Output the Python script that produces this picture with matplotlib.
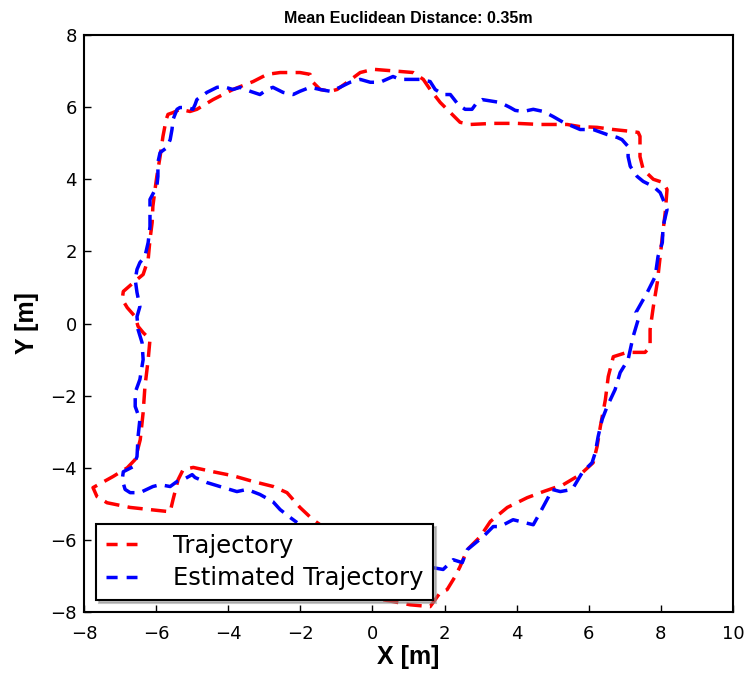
import matplotlib
matplotlib.use("Agg")
import matplotlib.pyplot as plt

traj_x = [0.30, 1.05, 1.60, 1.88, 2.07, 2.29, 2.43, 2.63, 2.99, 3.27, 3.74, 4.29, 4.74, 5.29,
          5.76, 6.12, 6.23, 6.32, 6.46, 6.54, 6.68, 7.06, 7.56, 7.70, 7.70, 7.79, 7.90, 7.98,
          8.04, 8.12, 8.17, 8.06, 7.79, 7.51, 7.42, 7.42, 7.37, 7.15, 6.68, 6.23, 5.76, 5.40,
          4.65, 4.01, 3.35, 2.71, 2.43, 2.16, 1.88, 1.60, 1.41, 1.13, 0.77, 0.02, -0.34, -0.70,
          -0.98, -1.17, -1.45, -1.65, -1.73, -2.01, -2.56, -2.92, -3.31, -3.87, -4.42, -4.87,
          -5.06, -5.34, -5.53, -5.67, -5.72, -5.81, -5.89, -5.98, -6.03, -6.09, -6.11, -6.17,
          -6.22, -6.36, -6.53, -6.91, -6.94, -6.80, -6.58, -6.50, -6.36, -6.17, -6.22, -6.31,
          -6.36, -6.44, -6.58, -6.80, -7.19, -7.75, -7.64, -7.36, -6.72, -6.17, -5.61, -5.53,
          -5.39, -5.25, -4.97, -4.42, -3.87, -3.31, -2.75, -2.37, -2.01, -1.65, -1.45]
traj_y = [-7.66, -7.80, -7.85, -7.46, -7.38, -7.02, -6.74, -6.27, -5.91, -5.49, -5.10, -4.83,
          -4.66, -4.47, -4.19, -3.86, -3.41, -2.86, -2.11, -1.47, -0.92, -0.80, -0.80, -0.64,
          -0.17, 0.47, 1.14, 1.86, 2.41, 3.08, 3.72, 3.91, 4.00, 4.27, 4.63, 5.19, 5.30, 5.33,
          5.38, 5.44, 5.46, 5.52, 5.52, 5.55, 5.55, 5.52, 5.58, 5.85, 6.13, 6.49, 6.77, 6.96,
          6.99, 7.05, 6.96, 6.69, 6.49, 6.44, 6.49, 6.69, 6.91, 6.96, 6.96, 6.91, 6.71, 6.49,
          6.21, 5.94, 5.88, 5.94, 5.85, 5.80, 5.66, 5.19, 4.63, 4.08, 3.72, 3.25, 2.80, 2.33,
          1.78, 1.36, 1.22, 0.89, 0.67, 0.44, 0.19, -0.08, -0.25, -0.44, -1.00, -1.75, -2.47,
          -3.22, -3.77, -4.00, -4.24, -4.55, -4.80, -4.97, -5.10, -5.16, -5.22, -4.88, -4.33,
          -4.05, -3.99, -4.11, -4.22, -4.38, -4.52, -4.69, -5.10, -5.44, -5.58]

# estimated trajectory
est_x = [1.68, 1.96, 2.24, 2.49, 2.63, 3.07, 3.35, 3.54, 3.90, 4.46, 4.65, 4.87, 4.98, 5.21,
         5.54, 5.82, 6.09, 6.18, 6.26, 6.37, 6.51, 6.73, 6.87, 7.09, 7.15, 7.23, 7.37, 7.31,
         7.62, 7.84, 7.92, 8.04, 8.06, 8.17, 8.06, 7.98, 7.79, 7.51, 7.34, 7.15, 7.09, 7.09,
         6.92, 6.79, 6.51, 6.12, 5.76, 5.29, 5.01, 4.74, 4.46, 4.18, 3.96, 3.82, 3.54, 3.35,
         3.04, 2.90, 2.76, 2.57, 2.38, 2.16, 1.96, 1.74, 1.60, 1.32, 1.13, 0.77, 0.57, 0.21,
         -0.06, -0.34, -0.62, -0.90, -1.17, -1.45, -1.73, -2.01, -2.20, -2.48, -2.76, -2.92,
         -3.12, -3.39, -3.67, -3.87, -4.14, -4.31, -4.59, -4.87, -4.92, -4.98, -5.14, -5.34,
         -5.42, -5.53, -5.56, -5.61, -5.70, -5.89, -5.95, -5.95, -5.98, -6.17, -6.17, -6.17,
         -6.22, -6.31, -6.45, -6.53, -6.58, -6.53, -6.45, -6.53, -6.50, -6.39, -6.36, -6.45,
         -6.58, -6.58, -6.45, -6.50, -6.53, -6.64, -6.91, -6.94, -6.86, -6.72, -6.45, -6.09,
         -5.89, -5.61, -5.42, -5.25, -5.00, -4.92, -4.59, -4.23, -3.76, -3.48, -3.12, -2.76,
         -2.56, -2.28, -2.09]
est_y = [-6.77, -6.82, -6.55, -6.63, -6.27, -5.91, -5.63, -5.63, -5.44, -5.58, -5.24, -4.83,
         -4.60, -4.66, -4.60, -4.13, -3.86, -3.58, -3.13, -2.66, -2.30, -1.83, -1.36, -1.00,
         -0.72, -0.36, 0.11, 0.31, 0.86, 1.30, 1.86, 2.25, 2.69, 3.16, 3.44, 3.63, 3.80, 3.94,
         4.08, 4.36, 4.63, 4.91, 5.10, 5.16, 5.24, 5.38, 5.38, 5.58, 5.74, 5.88, 5.94, 5.88,
         5.91, 5.99, 6.13, 6.16, 6.21, 6.13, 5.94, 5.94, 6.07, 6.35, 6.35, 6.49, 6.71, 6.77,
         6.77, 6.77, 6.85, 6.69, 6.69, 6.77, 6.69, 6.55, 6.44, 6.49, 6.55, 6.44, 6.35, 6.41,
         6.55, 6.49, 6.35, 6.44, 6.55, 6.49, 6.57, 6.55, 6.41, 6.21, 6.07, 5.94, 5.99, 5.99,
         5.94, 5.66, 5.38, 5.10, 4.88, 4.74, 4.47, 4.08, 3.80, 3.44, 3.08, 2.69, 2.25, 1.86,
         1.69, 1.50, 1.22, 0.86, 0.47, 0.19, -0.17, -0.53, -1.00, -1.55, -1.91, -2.30, -2.66,
         -3.13, -3.69, -3.97, -4.11, -4.33, -4.60, -4.69, -4.69, -4.52, -4.47, -4.52, -4.38,
         -4.33, -4.19, -4.27, -4.41, -4.52, -4.66, -4.60, -4.74, -4.94, -5.16, -5.38, -5.52]

mean_dist = 0.35
x_ticks = [-8, -6, -4, -2, 0, 2, 4, 6, 8, 10]
y_ticks = [-8, -6, -4, -2, 0, 2, 4, 6, 8]

plt.rcParams['lines.scale_dashes'] = False
label_font = ['Liberation Sans Narrow', 'Liberation Sans', 'DejaVu Sans']

fig = plt.figure(figsize=(7.46, 6.75), dpi=100)
ax = fig.add_axes([0.1126, 0.0933, 0.87, 0.8548])

ax.plot(traj_x, traj_y, color='red', lw=2.5, dashes=(11, 6), label='Trajectory')
ax.plot(est_x, est_y, color='blue', lw=2.5, dashes=(11, 6), label='Estimated Trajectory')

ax.set_xlim(-8, 10)
ax.set_ylim(-8, 8)
ax.set_xticks(x_ticks)
ax.set_yticks(y_ticks)
ax.tick_params(direction='in', length=5, width=1, labelsize=13)
ax.tick_params(axis='x', pad=9)
ax.tick_params(axis='y', pad=5)
for s in ax.spines.values():
    s.set_linewidth(1.5)

ax.set_xlabel('X [m]', fontsize=18, fontweight='bold', family=label_font, labelpad=2)
ax.set_ylabel('Y [m]', fontsize=18, fontweight='bold', family=label_font, labelpad=8)
ax.set_title('Mean Euclidean Distance: %.2fm' % mean_dist, fontsize=11.5, fontweight='bold',
             family=label_font, pad=9)

leg = ax.legend(loc='lower left', fontsize=17.5, shadow={'color': '0.55', 'alpha': 0.5},
                fancybox=False, handlelength=1.3, handletextpad=1.45, borderaxespad=0.5,
                labelspacing=0.35, borderpad=0.4)
leg.get_frame().set_edgecolor('black')
leg.get_frame().set_linewidth(1.5)
# short two-dash handles like the original
for h in leg.get_lines():
    h.set_dashes((8, 6.5))

fig.savefig('out.png', dpi=100)
